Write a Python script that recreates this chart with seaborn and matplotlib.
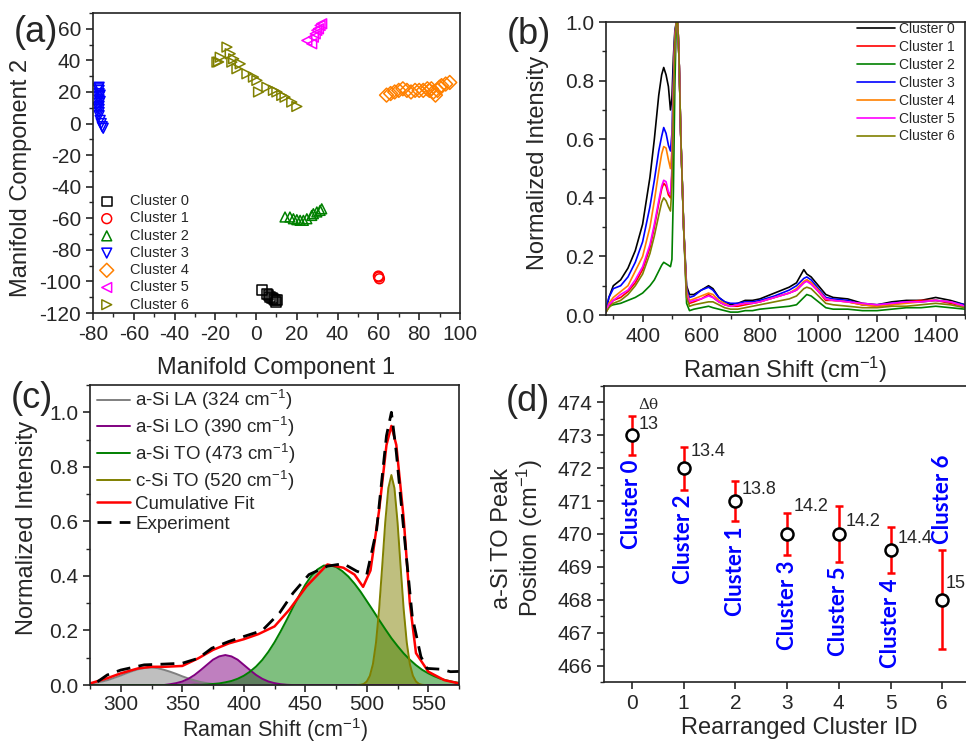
import numpy as np
import pandas as pd
import matplotlib
matplotlib.use('Agg')
import matplotlib.pyplot as plt
from matplotlib.ticker import MultipleLocator
import seaborn as sns

sns.set_style('ticks')
plt.rcParams['font.family'] = ['Liberation Sans', 'DejaVu Sans']
plt.rcParams['mathtext.fontset'] = 'custom'
plt.rcParams['mathtext.rm'] = 'Liberation Sans'
plt.rcParams['mathtext.it'] = 'Liberation Sans:italic'
plt.rcParams['axes.unicode_minus'] = False
plt.rcParams['axes.linewidth'] = 1.2
plt.rcParams['xtick.direction'] = 'out'
plt.rcParams['ytick.direction'] = 'out'

# ---------------- (a) manifold embedding ----------------
cluster_names = ['Cluster 0', 'Cluster 1', 'Cluster 2', 'Cluster 3', 'Cluster 4', 'Cluster 5', 'Cluster 6']
cluster_colors = ['#000000', '#ff0000', '#008000', '#0000ff', '#ff8000', '#ff00ff', '#808000']
cluster_markers = ['s', 'o', '^', 'v', 'D', '<', '>']

c0_x = [2.8, 5.3, 6.9, 8.5, 9.8, 6.1, 7.7, 9.3, 10.2]
c0_y = [-105.2, -107.8, -109.9, -110.9, -113, -108.8, -110.3, -112, -111.5]
c1_x = [60, 60.5, 60.2]
c1_y = [-96.6, -98.3, -97.2]
c2_x = [14.2, 16.6, 18.3, 20, 21.6, 23.2, 24.9, 27.3, 28.1, 29.8, 31.4, 32.2]
c2_y = [-59.2, -59.2, -60.3, -60.9, -61.3, -61.3, -60.3, -58.2, -57.1, -56, -55, -54]
c3_x = [-77, -77, -77, -77, -77, -77, -77, -77, -77, -77, -76.5, -76, -75.5, -75, -77.5, -76.5, -76.5, -77.5]
c3_y = [23, 21, 19, 17, 15, 13, 11, 9, 7, 5, 2, 0, -2, -3, 22, 18, 14, 10]
c4_x = [64, 66, 68, 70, 72, 74, 76, 78, 80, 82, 84, 86, 88, 89, 90, 91, 93, 95, 87, 85]
c4_y = [18, 19, 20, 21, 22, 21, 20, 21, 21, 21, 22, 22, 18, 21, 23, 24, 25, 26, 20, 21]
c5_x = [24.9, 28.1, 29.8, 31.4, 32.2, 27.3, 29, 30.6]
c5_y = [52.6, 54.7, 59, 62.1, 63.2, 50.5, 56.8, 60]
c6_x = [-19.2, -14.3, -12.7, -11, -7.8, -4.5, 0.4, 1.2, 5.3, 10.2, 14.2, 17.5, 20, -17.6, -18.4, -11.9, -9.4, -1.3, 8.5, 12.6]
c6_y = [38.9, 48.4, 44.2, 41, 37.8, 31.5, 27.3, 20, 23, 20, 16.7, 13.6, 10.8, 42, 39, 38.9, 34.7, 29.4, 21, 17.8]

manifold_x = [c0_x, c1_x, c2_x, c3_x, c4_x, c5_x, c6_x]
manifold_y = [c0_y, c1_y, c2_y, c3_y, c4_y, c5_y, c6_y]

# ---------------- (b) mean spectra ----------------
shift_b = [275, 285, 300, 325, 350, 375, 400, 425, 440, 455,
           465, 472, 480, 488, 495, 500, 505, 510, 515, 520,
           525, 530, 540, 550, 560, 575, 600, 625, 640, 660,
           680, 700, 725, 750, 775, 800, 850, 900, 925, 950,
           960, 975, 1000, 1025, 1050, 1100, 1150, 1200, 1250, 1300,
           1350, 1400, 1450, 1500]
spec_c0 = [0.01, 0.06, 0.10, 0.12, 0.16, 0.22, 0.31, 0.47, 0.60, 0.75,
           0.82, 0.845, 0.82, 0.78, 0.70, 0.74, 0.88, 0.97, 1.0, 1.0,
           0.85, 0.62, 0.30, 0.10, 0.07, 0.07, 0.085, 0.10, 0.09, 0.06,
           0.045, 0.035, 0.04, 0.05, 0.05, 0.055, 0.075, 0.095, 0.11, 0.155,
           0.14, 0.13, 0.10, 0.07, 0.06, 0.055, 0.04, 0.035, 0.045, 0.05,
           0.05, 0.06, 0.05, 0.035]
spec_c1 = [0.01, 0.03, 0.05, 0.06, 0.08, 0.11, 0.155, 0.23, 0.30, 0.38,
           0.43, 0.45, 0.44, 0.41, 0.40, 0.48, 0.74, 0.94, 1.0, 1.0,
           0.85, 0.62, 0.30, 0.07, 0.04, 0.045, 0.055, 0.07, 0.06, 0.045,
           0.035, 0.03, 0.03, 0.035, 0.04, 0.045, 0.06, 0.075, 0.085, 0.11,
           0.12, 0.11, 0.08, 0.05, 0.05, 0.045, 0.035, 0.03, 0.035, 0.045,
           0.05, 0.05, 0.04, 0.03]
spec_c2 = [0.01, 0.03, 0.035, 0.04, 0.05, 0.06, 0.075, 0.10, 0.12, 0.15,
           0.17, 0.18, 0.175, 0.17, 0.165, 0.19, 0.42, 0.78, 1.0, 1.0,
           0.85, 0.62, 0.30, 0.04, 0.015, 0.02, 0.025, 0.03, 0.025, 0.02,
           0.015, 0.01, 0.01, 0.015, 0.015, 0.02, 0.025, 0.03, 0.035, 0.06,
           0.07, 0.065, 0.045, 0.025, 0.02, 0.02, 0.015, 0.015, 0.02, 0.025,
           0.025, 0.03, 0.025, 0.02]
spec_c3 = [0.02, 0.06, 0.09, 0.10, 0.13, 0.18, 0.25, 0.37, 0.46, 0.56,
           0.61, 0.64, 0.62, 0.58, 0.56, 0.62, 0.82, 0.96, 1.0, 1.0,
           0.85, 0.62, 0.30, 0.09, 0.06, 0.065, 0.085, 0.095, 0.085, 0.06,
           0.045, 0.04, 0.04, 0.045, 0.045, 0.05, 0.065, 0.085, 0.10, 0.125,
           0.13, 0.12, 0.09, 0.06, 0.055, 0.05, 0.035, 0.035, 0.04, 0.045,
           0.045, 0.05, 0.045, 0.035]
spec_c4 = [0.01, 0.04, 0.06, 0.08, 0.10, 0.15, 0.20, 0.30, 0.39, 0.49,
           0.55, 0.575, 0.57, 0.53, 0.50, 0.56, 0.78, 0.95, 1.0, 1.0,
           0.85, 0.62, 0.30, 0.08, 0.05, 0.055, 0.065, 0.075, 0.07, 0.05,
           0.04, 0.03, 0.035, 0.04, 0.04, 0.045, 0.06, 0.075, 0.09, 0.115,
           0.12, 0.11, 0.085, 0.055, 0.05, 0.045, 0.035, 0.03, 0.035, 0.04,
           0.045, 0.05, 0.045, 0.03]
spec_c5 = [0.01, 0.035, 0.05, 0.07, 0.085, 0.12, 0.165, 0.24, 0.31, 0.39,
           0.44, 0.46, 0.455, 0.42, 0.41, 0.50, 0.75, 0.94, 1.0, 1.0,
           0.85, 0.62, 0.30, 0.07, 0.045, 0.05, 0.055, 0.065, 0.06, 0.045,
           0.035, 0.03, 0.035, 0.04, 0.04, 0.045, 0.06, 0.075, 0.085, 0.11,
           0.115, 0.105, 0.08, 0.055, 0.05, 0.045, 0.04, 0.035, 0.04, 0.045,
           0.045, 0.05, 0.045, 0.03]
spec_c6 = [0.01, 0.025, 0.04, 0.05, 0.07, 0.10, 0.14, 0.21, 0.27, 0.34,
           0.385, 0.40, 0.39, 0.37, 0.355, 0.44, 0.72, 0.93, 1.0, 1.0,
           0.85, 0.62, 0.30, 0.06, 0.03, 0.035, 0.04, 0.045, 0.045, 0.035,
           0.025, 0.02, 0.02, 0.025, 0.03, 0.035, 0.045, 0.055, 0.065, 0.09,
           0.095, 0.09, 0.065, 0.04, 0.035, 0.03, 0.025, 0.025, 0.03, 0.03,
           0.035, 0.04, 0.035, 0.025]
spectra = [spec_c0, spec_c1, spec_c2, spec_c3, spec_c4, spec_c5, spec_c6]

# ---------------- (c) peak deconvolution ----------------
shift_c = [275, 280, 285, 290, 295, 300, 305, 310, 315, 320, 325, 330, 335, 340, 345,
           350, 355, 360, 365, 370, 375, 380, 385, 390, 395, 400, 405, 410, 415, 420,
           425, 430, 435, 440, 445, 450, 455, 460, 465, 470, 475, 480, 485, 490, 495,
           500, 505, 510, 515, 520, 525, 530, 535, 540, 545, 550, 555, 560, 565, 570, 575]
la_324 = [0.005, 0.009, 0.013, 0.019, 0.027, 0.035, 0.044, 0.052, 0.059, 0.063, 0.064, 0.062, 0.056, 0.049, 0.041,
          0.032, 0.024, 0.017, 0.011, 0.007, 0.004, 0.002, 0.001, 0, 0, 0, 0, 0, 0, 0,
          0, 0, 0, 0, 0, 0, 0, 0, 0, 0, 0, 0, 0, 0, 0,
          0, 0, 0, 0, 0, 0, 0, 0, 0, 0, 0, 0, 0, 0, 0, 0]
lo_390 = [0, 0, 0, 0, 0, 0, 0, 0, 0, 0, 0, 0, 0, 0.003, 0.007,
          0.013, 0.023, 0.037, 0.055, 0.074, 0.093, 0.105, 0.110, 0.105, 0.093, 0.074, 0.055, 0.037, 0.023, 0.013,
          0.007, 0.003, 0.001, 0, 0, 0, 0, 0, 0, 0, 0, 0, 0, 0, 0,
          0, 0, 0, 0, 0, 0, 0, 0, 0, 0, 0, 0, 0, 0, 0, 0]
to_473 = [0, 0, 0, 0, 0, 0, 0, 0, 0, 0, 0, 0, 0, 0, 0,
          0, 0, 0.001, 0.001, 0.002, 0.004, 0.006, 0.010, 0.015, 0.023, 0.034, 0.049, 0.068, 0.092, 0.122,
          0.157, 0.197, 0.240, 0.285, 0.328, 0.368, 0.401, 0.424, 0.438, 0.439, 0.433, 0.418, 0.398, 0.372, 0.342,
          0.308, 0.274, 0.239, 0.205, 0.172, 0.143, 0.116, 0.093, 0.073, 0.056, 0.043, 0.032, 0.023, 0.017, 0.012, 0.008]
shift_csi = [492.5, 495, 497.5, 500, 502.5, 505, 507.5, 510, 512.5, 515, 517.5, 520, 522.5,
             525, 527.5, 530, 532.5, 535, 537.5, 540, 542.5, 545, 547.5]
csi_520 = [0, 0.001, 0.004, 0.013, 0.034, 0.077, 0.156, 0.277, 0.434, 0.597, 0.722, 0.770, 0.722,
           0.597, 0.434, 0.277, 0.156, 0.077, 0.034, 0.013, 0.004, 0.001, 0]
fit_x = [275, 289, 300, 314, 325, 336, 350, 363, 375, 388, 400, 412, 425, 437, 451, 468, 481, 490,
         497, 503, 510, 516, 520, 524, 530, 535, 540, 550, 563, 575]
fit_y = [0.006, 0.025, 0.043, 0.061, 0.067, 0.067, 0.07, 0.098, 0.129, 0.153, 0.168, 0.187, 0.215, 0.276,
         0.362, 0.442, 0.43, 0.405, 0.36, 0.42, 0.64, 0.88, 0.95, 0.88, 0.61, 0.30, 0.117, 0.049, 0.018, 0.006]
exp_x = [281, 289, 300, 319, 336, 350, 363, 374, 388, 400, 415, 429, 440, 453, 468, 481, 492, 500,
         508, 516, 520, 524, 530, 537, 544, 549, 560, 568, 576]
exp_y = [0.012, 0.037, 0.055, 0.074, 0.077, 0.08, 0.098, 0.135, 0.16, 0.178, 0.20, 0.264, 0.337, 0.405,
         0.436, 0.445, 0.417, 0.405, 0.57, 0.914, 1.0, 0.853, 0.57, 0.25, 0.104, 0.061, 0.058, 0.049, 0.05]

# ---------------- (d) TO peak position ----------------
cluster_id = [0, 1, 2, 3, 4, 5, 6]
to_peak = [473, 472, 471, 470, 470, 469.5, 468]
to_err = [0.6, 0.65, 0.62, 0.65, 0.85, 0.7, 1.5]
delta_theta = ['13', '13.4', '13.8', '14.2', '14.2', '14.4', '15']
delta_y = [473.32, 472.5, 471.34, 470.84, 470.38, 469.87, 468.5]
order_labels = ['Cluster 0', 'Cluster 2', 'Cluster 1', 'Cluster 3', 'Cluster 5', 'Cluster 4', 'Cluster 6']

fig = plt.figure(figsize=(9.66, 7.43), dpi=100)
ax_a = fig.add_axes([0.0963, 0.5787, 0.3798, 0.4038])
ax_b = fig.add_axes([0.6273, 0.5760, 0.3717, 0.3943])
ax_c = fig.add_axes([0.0932, 0.0780, 0.3820, 0.4038])
ax_d = fig.add_axes([0.6253, 0.0821, 0.3747, 0.3984])

TICK = 15
LAB = 17

def style(ax):
    for s in ax.spines.values():
        s.set_visible(True)
        s.set_linewidth(1.2)
        s.set_color('#222222')
    ax.tick_params(which='major', length=5, width=1.2, labelsize=TICK, top=False, right=False)
    ax.tick_params(which='minor', length=3, width=1.0, top=False, right=False)

# (a)
for name, col, mk, xs, ys in zip(cluster_names, cluster_colors, cluster_markers, manifold_x, manifold_y):
    sns.scatterplot(x=xs, y=ys, ax=ax_a, marker=mk, s=50, fc='none', ec=col,
                    linewidth=1.1, label=name)
ax_a.set_xlim(-80, 100)
ax_a.set_ylim(-120, 70)
ax_a.xaxis.set_major_locator(MultipleLocator(20))
ax_a.xaxis.set_minor_locator(MultipleLocator(10))
ax_a.yaxis.set_major_locator(MultipleLocator(20))
ax_a.yaxis.set_minor_locator(MultipleLocator(10))
style(ax_a)
ax_a.set_xlabel('Manifold Component 1', fontsize=LAB)
ax_a.set_ylabel('Manifold Component 2', fontsize=LAB)
ax_a.xaxis.set_label_coords(0.5, -0.147)
ax_a.yaxis.set_label_coords(-0.165, 0.45)
ax_a.legend(loc='lower left', bbox_to_anchor=(0.0175, 0.005), frameon=False, fontsize=10.5,
            handlelength=1.0, handletextpad=1.1, labelspacing=0.22, borderpad=0, borderaxespad=0)

# (b)
spec_df = pd.DataFrame({
    'shift': shift_b * len(cluster_names),
    'intensity': [v for s in spectra for v in s],
    'cluster': [n for n in cluster_names for _ in shift_b],
})
sns.lineplot(data=spec_df, x='shift', y='intensity', hue='cluster', palette=cluster_colors,
             hue_order=cluster_names, ax=ax_b, linewidth=1.2, legend=True, estimator=None, sort=False)
ax_b.set_xlim(275, 1500)
ax_b.set_ylim(0, 1.0)
ax_b.xaxis.set_major_locator(MultipleLocator(200))
ax_b.xaxis.set_minor_locator(MultipleLocator(100))
ax_b.yaxis.set_major_locator(MultipleLocator(0.2))
ax_b.yaxis.set_minor_locator(MultipleLocator(0.1))
ax_b.yaxis.set_major_formatter(matplotlib.ticker.FormatStrFormatter('%.1f'))
style(ax_b)
ax_b.set_xlabel('Raman Shift (cm$^{-1}$)', fontsize=LAB)
ax_b.set_ylabel('Normalized Intensity', fontsize=LAB)
ax_b.xaxis.set_label_coords(0.5, -0.135)
ax_b.yaxis.set_label_coords(-0.160, 0.52)
ax_b.legend(loc='upper left', bbox_to_anchor=(0.70, 1.0), frameon=False, fontsize=10,
            handlelength=2.7, handletextpad=0.3, labelspacing=0.28, borderpad=0, borderaxespad=0)

# (c)
comp_specs = [
    (shift_c, la_324, '#808080', 'a-Si LA (324 cm$^{-1}$)'),
    (shift_c, lo_390, '#800080', 'a-Si LO (390 cm$^{-1}$)'),
    (shift_c, to_473, '#008000', 'a-Si TO (473 cm$^{-1}$)'),
    (shift_csi, csi_520, '#808000', 'c-Si TO (520 cm$^{-1}$)'),
]
for xs, ys, col, lab in comp_specs:
    ax_c.fill_between(xs, 0, ys, color=col, alpha=0.5, linewidth=0)
    sns.lineplot(x=xs, y=ys, ax=ax_c, color=col, linewidth=1.4, label=lab, estimator=None, sort=False)
sns.lineplot(x=fit_x, y=fit_y, ax=ax_c, color='#ff0000', linewidth=1.8, label='Cumulative Fit',
             estimator=None, sort=False)
sns.lineplot(x=exp_x, y=exp_y, ax=ax_c, color='black', linewidth=2.0, label='Experiment',
             estimator=None, sort=False, dashes=False)
ax_c.lines[-1].set_dashes([5, 3])
ax_c.set_xlim(275, 575)
ax_c.set_ylim(0, 1.1)
ax_c.xaxis.set_major_locator(MultipleLocator(50))
ax_c.xaxis.set_minor_locator(MultipleLocator(25))
ax_c.yaxis.set_major_locator(MultipleLocator(0.2))
ax_c.yaxis.set_minor_locator(MultipleLocator(0.1))
ax_c.yaxis.set_major_formatter(matplotlib.ticker.FormatStrFormatter('%.1f'))
style(ax_c)
ax_c.tick_params(axis='x', which='major', pad=2)
ax_c.set_xlabel('Raman Shift (cm$^{-1}$)', fontsize=15.5)
ax_c.set_ylabel('Normalized Intensity', fontsize=LAB)
ax_c.xaxis.set_label_coords(0.5, -0.103)
ax_c.yaxis.set_label_coords(-0.142, 0.523)
ax_c.legend(loc='upper left', bbox_to_anchor=(0.019, 0.99), frameon=False, fontsize=13.5,
            handlelength=1.76, handletextpad=0.27, labelspacing=0.15, borderpad=0, borderaxespad=0)

# (d)
ax_d.errorbar(cluster_id, to_peak, yerr=to_err, fmt='none', ecolor='#ff0000', elinewidth=1.8,
              capsize=3, capthick=1.8, zorder=2)
sns.scatterplot(x=cluster_id, y=to_peak, ax=ax_d, marker='o', s=75, fc='white', ec='black',
                linewidth=1.8, zorder=3)
for i in range(len(cluster_id)):
    dx = 0.13 if i < 6 else 0.06
    ax_d.text(cluster_id[i] + dx, delta_y[i], delta_theta[i], fontsize=13, ha='left', va='center')
    if i < 6:
        ax_d.text(cluster_id[i], to_peak[i] - to_err[i] - 0.15, order_labels[i], rotation=90,
                  ha='center', va='top', fontsize=16, color='#0000ff', fontweight='bold', family='Lato')
    else:
        ax_d.text(cluster_id[i], to_peak[i] + to_err[i] + 0.2, order_labels[i], rotation=90,
                  ha='center', va='bottom', fontsize=16, color='#0000ff', fontweight='bold', family='Lato')
ax_d.text(cluster_id[0] + 0.13, 473.93, '\u0394\u03b8', fontsize=11, ha='left', va='center',
          family='DejaVu Serif')
ax_d.set_xlim(-0.54, 6.46)
ax_d.set_ylim(465.5, 474.5)
ax_d.xaxis.set_major_locator(MultipleLocator(1))
ax_d.yaxis.set_major_locator(MultipleLocator(1))
ax_d.yaxis.set_minor_locator(MultipleLocator(0.5))
style(ax_d)
ax_d.spines['right'].set_visible(False)
ax_d.set_xlabel('Rearranged Cluster ID', fontsize=LAB)
ax_d.set_ylabel('a-Si TO Peak\nPosition (cm$^{-1}$)', fontsize=LAB, linespacing=1.1)
ax_d.xaxis.set_label_coords(0.54, -0.118)
ax_d.yaxis.set_label_coords(-0.163, 0.486)

for txt, x, y in [('(a)', 36, 32), ('(b)', 529, 35), ('(c)', 32, 399), ('(d)', 528, 401)]:
    fig.text(x / 966, 1 - y / 743, txt, fontsize=26, ha='center', va='center')

fig.savefig('out.png', dpi=100)
